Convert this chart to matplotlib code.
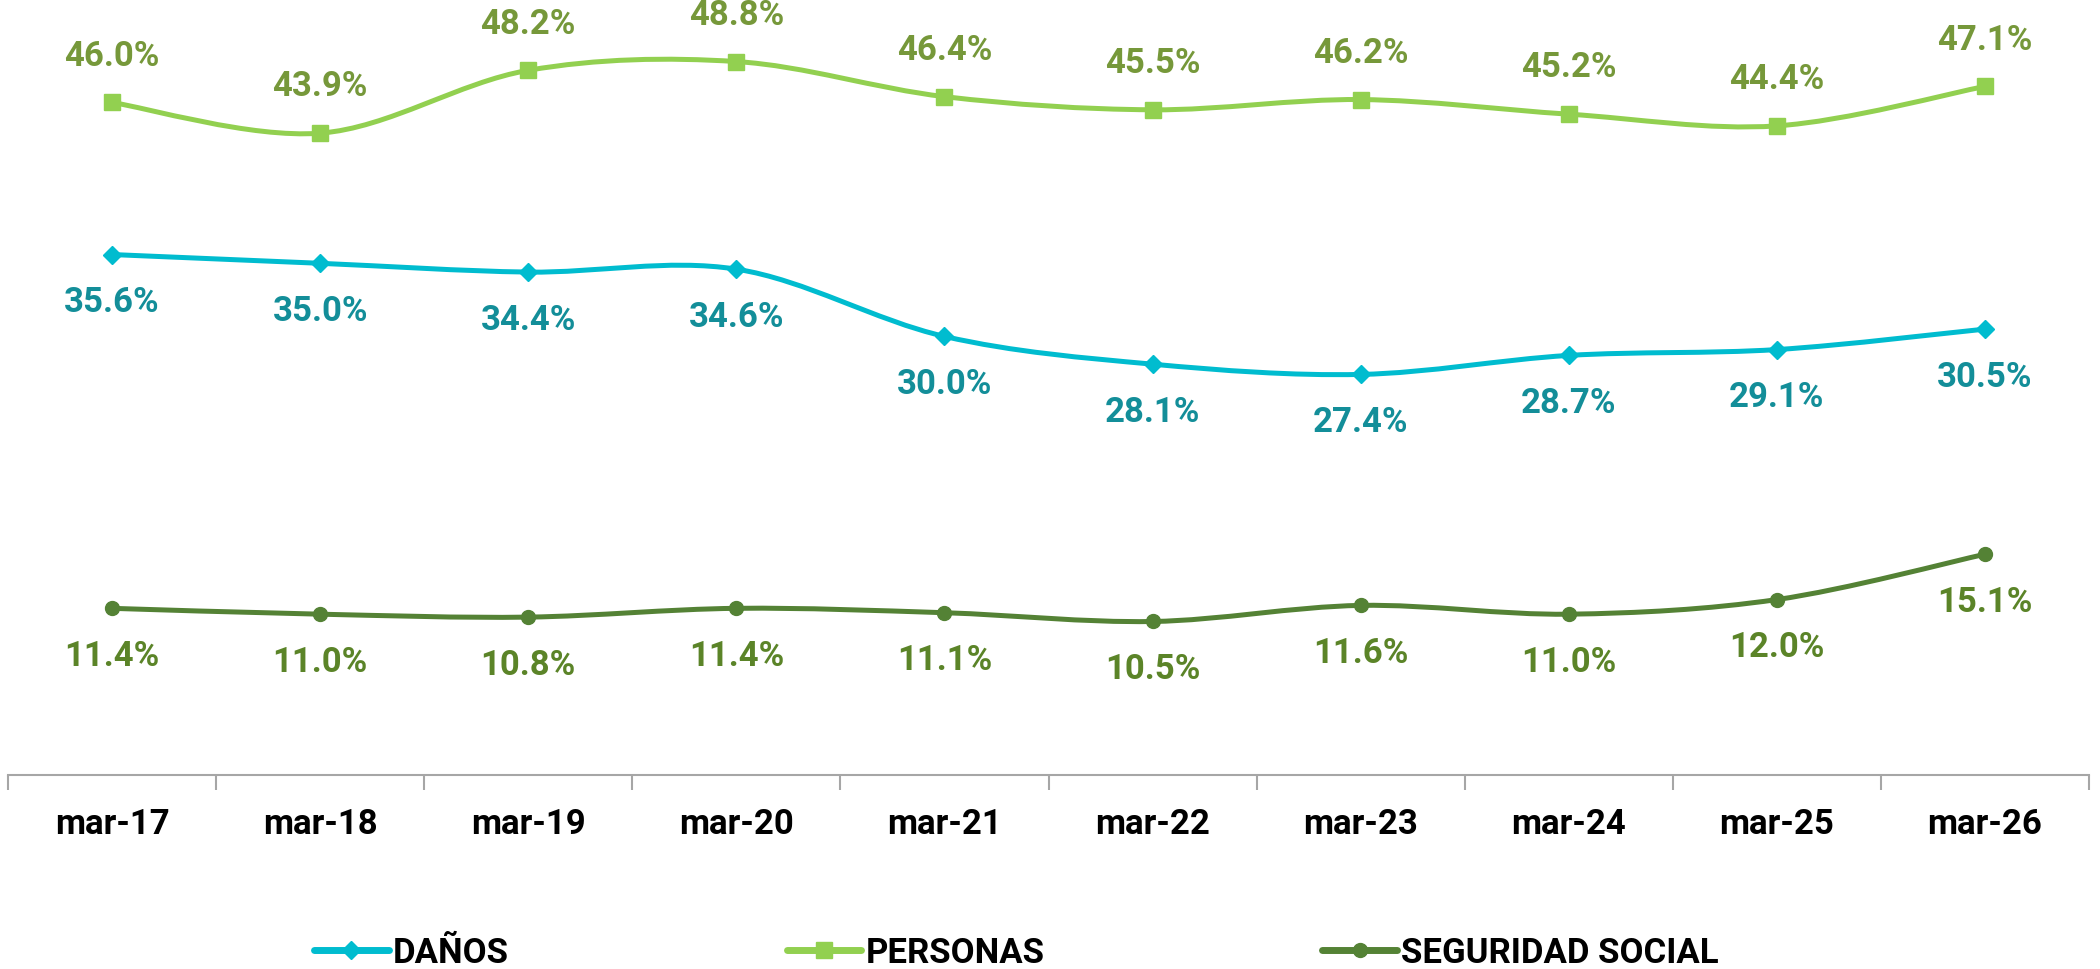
import matplotlib
matplotlib.use("Agg")
import matplotlib.pyplot as plt
import numpy as np
from matplotlib.path import Path
from matplotlib.patches import PathPatch
from matplotlib.lines import Line2D

plt.rcParams['font.family'] = ['Roboto', 'DejaVu Sans']

categories = ['mar-17', 'mar-18', 'mar-19', 'mar-20', 'mar-21',
              'mar-22', 'mar-23', 'mar-24', 'mar-25', 'mar-26']
danos = [35.6, 35.0, 34.4, 34.6, 30.0, 28.1, 27.4, 28.7, 29.1, 30.5]
personas = [46.0, 43.9, 48.2, 48.8, 46.4, 45.5, 46.2, 45.2, 44.4, 47.1]
seguridad = [11.4, 11.0, 10.8, 11.4, 11.1, 10.5, 11.6, 11.0, 12.0, 15.1]


def smooth_path(xs, ys):
    # Bezier curve through the points (like a spreadsheet "smoothed line")
    pts = np.column_stack([xs, ys]).astype(float)
    n = len(pts)
    verts = [pts[0]]
    codes = [Path.MOVETO]
    for i in range(n - 1):
        p0 = pts[i - 1] if i > 0 else pts[i]
        p1 = pts[i]
        p2 = pts[i + 1]
        p3 = pts[i + 2] if i + 2 < n else pts[i + 1]
        c1 = p1 + (p2 - p0) / 6.0
        c2 = p2 - (p3 - p1) / 6.0
        verts += [c1, c2, p2]
        codes += [Path.CURVE4] * 3
    return Path(verts, codes)


fig = plt.figure(figsize=(21, 9.7), dpi=100)
ax = fig.add_axes([0.0038, 0.2, 0.991, 0.7536])

x = np.arange(len(categories))
series = [
    ('DAÑOS', danos, '#00BCCF', 'D', 9, '#138E99', -1),
    ('PERSONAS', personas, '#92D050', 's', 11, '#76983A', 1),
    ('SEGURIDAD SOCIAL', seguridad, '#548235', 'o', 10, '#5B8428', -1),
]

handles = []
for name, vals, col, mk, ms, lcol, side in series:
    ax.add_patch(PathPatch(smooth_path(x, vals), facecolor='none',
                           edgecolor=col, lw=3.6, capstyle='round'))
    ax.plot(x, vals, linestyle='none', marker=mk, ms=ms, color=col)
    for xi, v in zip(x, vals):
        ax.annotate(f'{v:.1f}%', (xi, v), xytext=(0, 34 * side),
                    textcoords='offset points', ha='center', va='center',
                    fontsize=25, fontweight='bold', color=lcol)
    handles.append(Line2D([], [], color=col, lw=5, marker=mk, ms=ms,
                          solid_capstyle='round', label=name))

ax.set_xlim(-0.5, len(categories) - 0.5)
ax.set_ylim(0, 50)
ax.set_yticks([])
for s in ['left', 'right', 'top']:
    ax.spines[s].set_visible(False)
ax.spines['bottom'].set_color('#A6A6A6')
ax.spines['bottom'].set_linewidth(1.5)
ax.set_xticks(x)
ax.set_xticklabels(categories, fontsize=25, fontweight='bold')
ax.tick_params(axis='x', which='major', length=0, pad=23)
ax.set_xticks(np.arange(-0.5, len(categories)), minor=True)
ax.tick_params(axis='x', which='minor', length=11, width=1.5, color='#A6A6A6')

fig.legend(handles=handles, loc='center', bbox_to_anchor=(0.484, 0.017),
           ncol=3, frameon=False, handlelength=2.15, handletextpad=0.12,
           columnspacing=8.0,
           prop={'weight': 'bold', 'size': 25})

fig.savefig('out.png', dpi=100)
